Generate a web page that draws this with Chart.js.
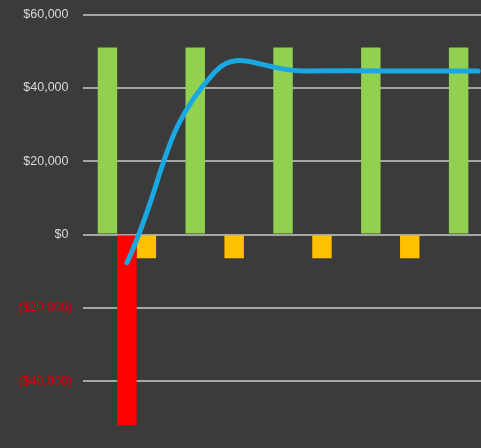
<!DOCTYPE html>
<html>
<head>
<meta charset="utf-8">
<script src="https://cdn.jsdelivr.net/npm/chart.js@4"></script>
<style>
  html, body { margin: 0; padding: 0; background: #3b3b3b; overflow: hidden; }
  #wrap { width: 523px; height: 477px; position: relative; top: -4px; }
</style>
</head>
<body>
<div id="wrap"><canvas id="cashChart"></canvas></div>
<script>
const categories = ["1", "2", "3", "4", "5"];
const income = [51000, 51000, 51000, 51000, 51000];
const investment = [-52000, 0, 0, 0, 0];
const costs = [-6500, -6500, -6500, -6500, -6500];
const cumulative = [-7700, 44300, 44600, 44600, 44600];

const ctx = document.getElementById("cashChart");

function money(v) {
  const s = "$" + Math.abs(v).toLocaleString("en-US");
  return v < 0 ? "(" + s + ")" : s + " ";
}

new Chart(ctx, {
  type: "bar",
  data: {
    labels: categories,
    datasets: [
      {
        type: "line",
        data: cumulative,
        borderColor: "#1aa8e2",
        borderWidth: 5,
        borderCapStyle: "round",
        pointRadius: 0,
        tension: 0.45,
        order: 0,
      },
      { data: income, backgroundColor: "#92d050", order: 1 },
      { data: investment, backgroundColor: "#ff0000", order: 1 },
      { data: costs, backgroundColor: "#ffc000", order: 1 },
    ],
  },
  options: {
    responsive: true,
    maintainAspectRatio: false,
    animation: false,
    categoryPercentage: 0.665,
    barPercentage: 1,
    layout: { padding: { top: 0, bottom: 0, right: 1 } },
    plugins: { legend: { display: false }, tooltip: { enabled: false } },
    scales: {
      x: { display: false },
      y: {
        min: -60000,
        max: 60000,
        afterFit: (scale) => { scale.width = 83; },
        border: { display: false },
        grid: { color: "#a6a6a6", lineWidth: 2, drawTicks: false },
        ticks: {
          stepSize: 20000,
          padding: 11,
          font: { family: "Liberation Sans", size: 12.5 },
          color: (c) => (c.tick.value < 0 ? "#e00000" : "#d9d9d9"),
          callback: (v) => money(v),
        },
      },
    },
  },
});
</script>
</body>
</html>
